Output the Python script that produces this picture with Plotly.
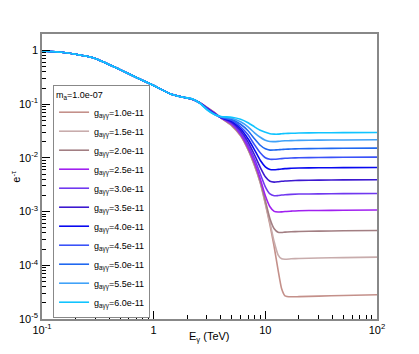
import plotly.graph_objects as go

# photon energy grid (TeV)
energy = [0.1, 0.15, 0.2, 0.3, 0.5, 0.7, 1.0, 1.4, 1.8, 2.2, 2.6, 3.0, 3.5, 4.0,
          5.0, 6.0, 7.0, 8.0, 9.0, 10, 11, 12, 13, 14, 15, 17, 20, 30, 50, 100]

# survival probability e^-tau for each coupling g_agg (m_a = 1.0e-07)
surv_1p0 = [0.98, 0.925, 0.85, 0.71, 0.44, 0.315, 0.222, 0.157, 0.136,
            0.1234, 0.106, 0.0875, 0.0707, 0.0558, 0.0396, 0.0258, 0.01416, 0.00713, 0.00344,
            0.0014, 5.68e-4, 2.21e-4, 8.24e-5, 3.65e-5, 2.70e-5, 2.59e-5, 2.61e-5, 2.67e-5,
            2.74e-5, 2.82e-5]
surv_1p5 = [0.98, 0.925, 0.85, 0.71, 0.44, 0.315, 0.222, 0.157, 0.136,
            0.1237, 0.106, 0.087, 0.070, 0.0558, 0.0401, 0.0261, 0.01446, 0.00728, 0.00351,
            0.00146, 6.18e-4, 2.74e-4, 1.57e-4, 1.32e-4, 1.30e-4, 1.32e-4, 1.34e-4, 1.37e-4,
            1.39e-4, 1.42e-4]
surv_2p0 = [0.98, 0.925, 0.85, 0.71, 0.44, 0.315, 0.222, 0.157, 0.136,
            0.124, 0.106, 0.086, 0.069, 0.0558, 0.0408, 0.0266, 0.01476, 0.0076, 0.00367,
            0.00159, 7.35e-4, 4.78e-4, 4.12e-4, 4.08e-4, 4.15e-4, 4.21e-4, 4.26e-4, 4.33e-4,
            4.39e-4, 4.45e-4]
surv_2p5 = [0.98, 0.925, 0.85, 0.71, 0.44, 0.315, 0.222, 0.157, 0.136,
            0.1242, 0.1055, 0.086, 0.0685, 0.0558, 0.0423, 0.0275, 0.01575, 0.00828, 0.00408,
            0.00197, 0.00123, 0.00101, 9.8e-4, 9.9e-4, 1.005e-3, 1.02e-3, 1.04e-3, 1.05e-3,
            1.06e-3, 1.07e-3]
surv_3p0 = [0.98, 0.925, 0.85, 0.71, 0.44, 0.315, 0.222, 0.157, 0.136,
            0.1245, 0.1055, 0.085, 0.068, 0.0561, 0.0441, 0.0293, 0.01754, 0.00962, 0.00506,
            0.0029, 0.00214, 0.00197, 0.00199, 0.00203, 0.00206, 0.00209, 0.00212, 0.00214,
            0.00216, 0.00217]
surv_3p5 = [0.98, 0.925, 0.85, 0.71, 0.44, 0.315, 0.222, 0.157, 0.136,
            0.1248, 0.105, 0.084, 0.067, 0.0562, 0.046, 0.032, 0.01995, 0.01143, 0.00668,
            0.00445, 0.00367, 0.00354, 0.00359, 0.00367, 0.00372, 0.00376, 0.00381, 0.00386,
            0.00389, 0.00391]
surv_4p0 = [0.98, 0.925, 0.85, 0.71, 0.44, 0.315, 0.222, 0.157, 0.136,
            0.125, 0.105, 0.083, 0.0665, 0.0565, 0.0481, 0.0348, 0.0227, 0.01416, 0.00902,
            0.00683, 0.00608, 0.0060, 0.00611, 0.00621, 0.00632, 0.0064, 0.00649, 0.00654,
            0.00659, 0.00662]
surv_4p5 = [0.98, 0.925, 0.85, 0.71, 0.44, 0.315, 0.222, 0.157, 0.136,
            0.1252, 0.1045, 0.082, 0.066, 0.057, 0.0501, 0.0379, 0.0269, 0.01754, 0.01245,
            0.01004, 0.00942, 0.00942, 0.00954, 0.0097, 0.00983, 0.00995, 0.01004, 0.01017,
            0.01026, 0.01035]
surv_5p0 = [0.98, 0.925, 0.85, 0.71, 0.44, 0.315, 0.222, 0.157, 0.136,
            0.1255, 0.1045, 0.081, 0.065, 0.0575, 0.0523, 0.0423, 0.032, 0.0227, 0.01718,
            0.01476, 0.01397, 0.01403, 0.01416, 0.01433, 0.01446, 0.01464, 0.01476, 0.01496,
            0.0151, 0.0152]
surv_5p5 = [0.98, 0.925, 0.85, 0.71, 0.44, 0.315, 0.222, 0.157, 0.136,
            0.1258, 0.104, 0.080, 0.0645, 0.0582, 0.0546, 0.047, 0.0379, 0.0293, 0.0242,
            0.0213, 0.0202, 0.0201, 0.0203, 0.0206, 0.0208, 0.021, 0.0212, 0.0214,
            0.0216, 0.0217]
surv_6p0 = [0.98, 0.925, 0.85, 0.71, 0.44, 0.315, 0.222, 0.157, 0.136,
            0.126, 0.104, 0.0787, 0.064, 0.059, 0.057, 0.0523, 0.0451, 0.0379, 0.0327,
            0.030, 0.0281, 0.0277, 0.0277, 0.0281, 0.0284, 0.0287, 0.0291, 0.0293,
            0.0296, 0.0297]

couplings = ["1.0e-11", "1.5e-11", "2.0e-11", "2.5e-11", "3.0e-11", "3.5e-11",
             "4.0e-11", "4.5e-11", "5.0e-11", "5.5e-11", "6.0e-11"]
series = [surv_1p0, surv_1p5, surv_2p0, surv_2p5, surv_3p0, surv_3p5,
          surv_4p0, surv_4p5, surv_5p0, surv_5p5, surv_6p0]
line_colors = ["#c4908a", "#c8acac", "#a27e82", "#a020f0", "#7038f0", "#3c18d0",
               "#0808f0", "#3a52f8", "#2068f0", "#40a2f8", "#10c4ff"]

x_major = [0.1, 1, 10, 100]
x_major_text = ["10<sup>-1</sup>", "1", "10", "10<sup>2</sup>"]
y_major = [1e-5, 1e-4, 1e-3, 1e-2, 1e-1, 1]
y_major_text = ["10<sup>-5</sup>", "10<sup>-4</sup>", "10<sup>-3</sup>",
                "10<sup>-2</sup>", "10<sup>-1</sup>", "1"]

font = "Liberation Sans, Arial, sans-serif"

fig = go.Figure()
for i in range(len(series)):
    fig.add_trace(
        go.Scatter(
            x=energy,
            y=series[i],
            mode="lines",
            line=dict(color=line_colors[i], width=1.6, shape="spline", smoothing=0.5),
            name="g<sub>aγγ</sub>=" + couplings[i],
        )
    )

x_minor = [m * d for d in (0.1, 1, 10) for m in range(2, 10)]
y_minor = [m * d for d in (1e-5, 1e-4, 1e-3, 1e-2, 1e-1) for m in range(2, 10)]

axis_style = dict(
    type="log",
    ticks="inside",
    ticklen=8,
    tickcolor="black",
    showgrid=False,
    zeroline=False,
    showline=True,
    mirror=True,
    linecolor="#888888",
    linewidth=1.5,
    tickfont=dict(family=font, size=11, color="black"),
)
fig.update_xaxes(
    range=[-1, 2],
    tickvals=x_major,
    ticktext=x_major_text,
    minor=dict(tickvals=x_minor, ticks="inside", ticklen=4, tickcolor="black", showgrid=False),
    **axis_style,
)
fig.update_yaxes(
    range=[-5, 0.307],
    tickvals=y_major,
    ticktext=y_major_text,
    minor=dict(tickvals=y_minor, ticks="inside", ticklen=4, tickcolor="black", showgrid=False),
    **axis_style,
)

fig.add_annotation(
    text="E<sub>γ</sub> (TeV)", xref="paper", yref="paper", x=0.5, y=-0.063,
    xanchor="center", yanchor="middle", showarrow=False,
    font=dict(family=font, size=11, color="black"),
)
fig.add_annotation(
    text="e<sup>-τ</sup>", xref="paper", yref="paper", x=-0.08, y=0.5,
    xanchor="center", yanchor="middle", showarrow=False, textangle=-90,
    font=dict(family=font, size=11, color="black"),
)

# the page body has an 8px margin, so the figure is sized to fit inside it
fig.update_layout(
    width=411,
    height=346,
    margin=dict(l=34, r=42, t=26, b=35),
    paper_bgcolor="white",
    plot_bgcolor="white",
    showlegend=True,
    legend=dict(
        x=0.033,
        y=0.821,
        xanchor="left",
        yanchor="top",
        bgcolor="white",
        bordercolor="#888888",
        borderwidth=1,
        font=dict(family=font, size=9, color="black"),
        title=dict(text="m<sub>a</sub>=1.0e-07", font=dict(family=font, size=9, color="black")),
    ),
)

fig.write_html("out.html")
